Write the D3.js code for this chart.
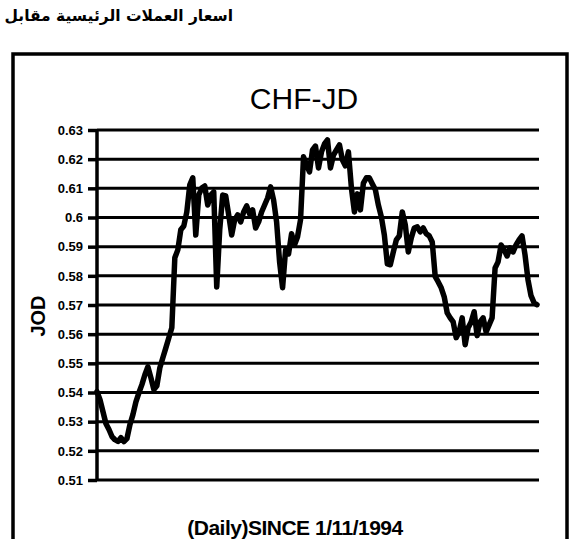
<!DOCTYPE html>
<html>
<head>
<meta charset="utf-8">
<script src="https://d3js.org/d3.v7.min.js"></script>
<style>
    body { margin: 0; background: #fff; }
    text { fill: #000; }
</style>
</head>
<body>
<script>
// CHF against JOD, daily since 1/11/1994
const chfJod = [
    0.5403, 0.5375, 0.5334, 0.5293, 0.5273, 0.5249, 0.5238, 0.5232, 0.5245, 0.5232,
    0.5242, 0.5290, 0.5324, 0.5368, 0.5399, 0.5427, 0.5461, 0.5488, 0.5451, 0.5410,
    0.5423, 0.5485, 0.5519, 0.5553, 0.5588, 0.5622, 0.5862, 0.5889, 0.5958, 0.5971,
    0.6019, 0.6112, 0.6136, 0.5940, 0.6077, 0.6101, 0.6108, 0.6043, 0.6077, 0.6088,
    0.5762, 0.5958, 0.6077, 0.6074, 0.6009, 0.5940, 0.5992, 0.6009, 0.5985, 0.6019,
    0.6040, 0.6012, 0.6026, 0.5964, 0.5985, 0.6019, 0.6043, 0.6067, 0.6105, 0.6060,
    0.5985, 0.5848, 0.5759, 0.5889, 0.5875, 0.5944, 0.5906, 0.5934, 0.5992, 0.6208,
    0.6180, 0.6156, 0.6232, 0.6245, 0.6170, 0.6225, 0.6252, 0.6266, 0.6170, 0.6214,
    0.6232, 0.6249, 0.6197, 0.6177, 0.6225, 0.6101, 0.6019, 0.6081, 0.6026, 0.6118,
    0.6136, 0.6136, 0.6115, 0.6095, 0.6043, 0.6002, 0.5940, 0.5841, 0.5838, 0.5882,
    0.5923, 0.5937, 0.6019, 0.5975, 0.5882, 0.5930, 0.5964, 0.5968, 0.5951, 0.5964,
    0.5944, 0.5937, 0.5916, 0.5797, 0.5779, 0.5759, 0.5728, 0.5673, 0.5656, 0.5642,
    0.5588, 0.5608, 0.5656, 0.5564, 0.5622, 0.5642, 0.5677, 0.5595, 0.5642, 0.5656,
    0.5608, 0.5632, 0.5656, 0.5827, 0.5848, 0.5906, 0.5889, 0.5868, 0.5896, 0.5882,
    0.5906, 0.5923, 0.5937, 0.5872, 0.5786, 0.5732, 0.5708, 0.5701
]
const yTicks = [0.51, 0.52, 0.53, 0.54, 0.55, 0.56, 0.57, 0.58, 0.59, 0.6, 0.61, 0.62, 0.63]
const header = "اسعار العملات الرئيسية مقابل"
const chartTitle = "CHF-JD"
const yLabel = "JOD"
const footer = "(Daily)SINCE 1/11/1994"

const w = 571
const h = 539

const svg = d3.select("body")
    .append("svg")
    .attr("width", w)
    .attr("height", h)

const x = d3.scaleLinear()
    .domain([0, chfJod.length - 1])
    .range([97, 537])

const y = d3.scaleLinear()
    .domain([0.51, 0.63])
    .range([480, 130])

// arabic header above the box, right edge near x=232
svg.append("text")
    .attr("x", 233)
    .attr("y", 21)
    .attr("text-anchor", "end")
    .style("font-family", "'DejaVu Sans', sans-serif")
    .style("font-weight", "bold")
    .style("font-size", "15.5px")
    .text(header)

// the box round the chart (runs off the bottom of the page)
svg.append("rect")
    .attr("x", 13)
    .attr("y", 54)
    .attr("width", 554)
    .attr("height", 520)
    .attr("fill", "none")
    .attr("stroke", "#000")
    .attr("stroke-width", 3.5)

svg.append("text")
    .attr("x", 304)
    .attr("y", 109)
    .attr("text-anchor", "middle")
    .style("font-family", "'Liberation Sans', Arial, sans-serif")
    .style("font-size", "30px")
    .text(chartTitle)

// gridlines
svg.append("g")
    .selectAll("line")
    .data(yTicks)
    .enter()
    .append("line")
    .attr("x1", 97)
    .attr("x2", 539)
    .attr("y1", d => y(d))
    .attr("y2", d => y(d))
    .attr("stroke", "#000")
    .attr("stroke-width", 3)

const yAxis = d3.axisLeft(y)
    .tickValues(yTicks)
    .tickSize(9)
    .tickPadding(5)
    .tickFormat(d => String(+d.toFixed(2)))

const axisG = svg.append("g")
    .attr("transform", "translate(97,0)")
    .call(yAxis)

axisG.select(".domain")
    .attr("d", "M0," + y(0.51) + "V" + y(0.63))
    .attr("stroke", "#000")
    .attr("stroke-width", 3.5)

axisG.selectAll(".tick line")
    .attr("stroke", "#000")
    .attr("stroke-width", 3.5)

axisG.selectAll(".tick text")
    .style("font-family", "'Liberation Sans', Arial, sans-serif")
    .style("font-weight", "bold")
    .style("font-size", "13px")
    .attr("fill", "#000")

svg.append("text")
    .attr("transform", "translate(45,316) rotate(-90)")
    .attr("text-anchor", "middle")
    .style("font-family", "'Liberation Sans', Arial, sans-serif")
    .style("font-weight", "bold")
    .style("font-size", "20px")
    .text(yLabel)

const line = d3.line()
    .x((d, i) => x(i))
    .y(d => y(d))

svg.append("path")
    .datum(chfJod)
    .attr("d", line)
    .attr("fill", "none")
    .attr("stroke", "#000")
    .attr("stroke-width", 5.5)
    .attr("stroke-linejoin", "round")
    .attr("stroke-linecap", "round")

svg.append("text")
    .attr("x", 295)
    .attr("y", 535)
    .attr("text-anchor", "middle")
    .style("font-family", "'Liberation Sans', Arial, sans-serif")
    .style("font-weight", "bold")
    .style("font-size", "21px")
    .style("letter-spacing", "-0.5px")
    .text(footer)
</script>
</body>
</html>
